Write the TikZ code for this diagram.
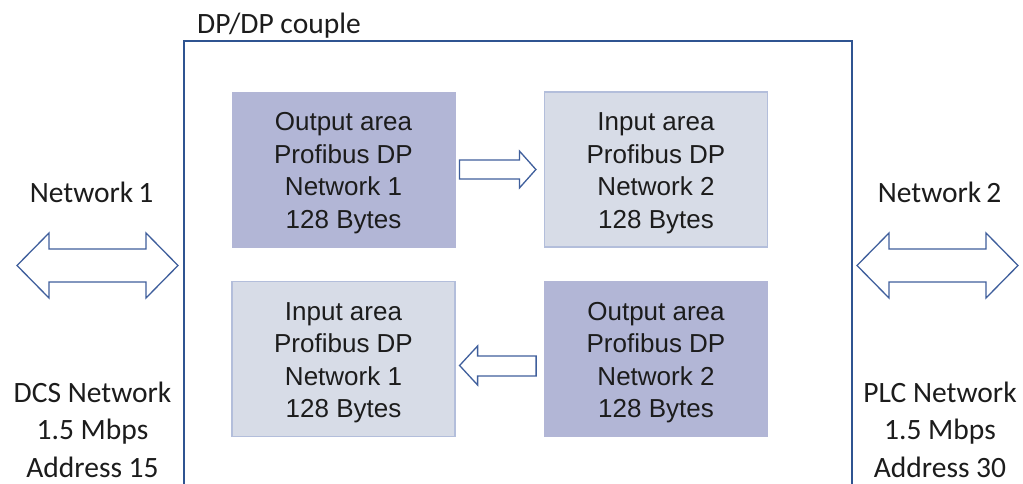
\documentclass[tikz,border=0pt]{standalone}
\usepackage{fontspec}
\setmainfont{Carlito}
\newfontfamily\boxfont{Liberation Sans}
\usetikzlibrary{calc}

\definecolor{frameblue}{HTML}{2F5491}
\definecolor{arrowblue}{HTML}{3F5F9C}
\definecolor{darkarea}{HTML}{B2B6D6}
\definecolor{lightarea}{HTML}{D7DCE7}
\definecolor{lightedge}{HTML}{B3BEDB}
\definecolor{inktext}{HTML}{1C1C1C}

% a taller first line pushes the four text lines slightly down in their box
\newcommand{\firstline}{\rule{0pt}{25pt}}

\tikzset{
  area/.style={minimum width=223pt, minimum height=155pt, inner sep=0pt,
    align=center, text=inktext,
    font=\boxfont\fontsize{26pt}{32.5pt}\selectfont},
  outarea/.style={area, fill=darkarea, draw=darkarea, line width=0.8pt},
  inarea/.style={area, fill=lightarea, draw=lightedge, line width=1.2pt},
  caption/.style={inner sep=0pt, text=inktext, align=center,
    font=\fontsize{29.5pt}{37.5pt}\selectfont},
  blockarrow/.style={draw=arrowblue, fill=white, line width=1.3pt, line join=miter},
  frame/.style={draw=frameblue, line width=1.4pt}
}

\begin{document}
\begin{tikzpicture}[x=1pt, y=-1pt]
  \clip (0,0) rectangle (1023,483);
  \fill[white] (0,0) rectangle (1023,483);

  % coupler housing, open at the bottom
  \draw[frame] (184,41) rectangle (852,520);
  \node[caption, anchor=base west] (title) at (197,33) {DP/DP couple};

  % data areas
  \node[outarea] (out1) at (343.5,169.5) {\firstline Output area\\Profibus DP\\Network 1\\128 Bytes};
  \node[inarea]  (in2)  at (656,169.5)   {\firstline Input area\\Profibus DP\\Network 2\\128 Bytes};
  \node[inarea]  (in1)  at (343.5,359)   {\firstline Input area\\Profibus DP\\Network 1\\128 Bytes};
  \node[outarea] (out2) at (656,359)     {\firstline Output area\\Profibus DP\\Network 2\\128 Bytes};

  % transfer arrows between the areas
  \draw[blockarrow]
    ($(out1.east)+(4,-9.5)$) -- ($(out1.east)+(64,-9.5)$) -- ($(out1.east)+(64,-18.5)$)
    -- ($(in2.west)+(-8,0)$)
    -- ($(out1.east)+(64,18.5)$) -- ($(out1.east)+(64,9.5)$) -- ($(out1.east)+(4,9.5)$) -- cycle;
  \draw[blockarrow]
    ($(out2.west)+(-8,-3)$) -- ($(in1.east)+(22,-3)$) -- ($(in1.east)+(22,-13)$)
    -- ($(in1.east)+(4,6.5)$)
    -- ($(in1.east)+(22,26)$) -- ($(in1.east)+(22,17)$) -- ($(out2.west)+(-8,17)$) -- cycle;

  % network links on both sides
  \coordinate (l1) at (17,265.5);
  \coordinate (r1) at (178,265.5);
  \draw[blockarrow]
    (l1) -- ($(l1)+(32,-32.5)$) -- ($(l1)+(32,-16.5)$) -- ($(r1)+(-32,-16.5)$)
    -- ($(r1)+(-32,-32.5)$) -- (r1) -- ($(r1)+(-32,32.5)$) -- ($(r1)+(-32,16.5)$)
    -- ($(l1)+(32,16.5)$) -- ($(l1)+(32,32.5)$) -- cycle;
  \coordinate (l2) at (857,265.5);
  \coordinate (r2) at (1018,265.5);
  \draw[blockarrow]
    (l2) -- ($(l2)+(32,-32.5)$) -- ($(l2)+(32,-16.5)$) -- ($(r2)+(-32,-16.5)$)
    -- ($(r2)+(-32,-32.5)$) -- (r2) -- ($(r2)+(-32,32.5)$) -- ($(r2)+(-32,16.5)$)
    -- ($(l2)+(32,16.5)$) -- ($(l2)+(32,32.5)$) -- cycle;

  % network captions (base anchor sits on the last line)
  \node[caption, anchor=base] (net1) at (91.5,202) {Network\,1};
  \node[caption, anchor=base] (net2) at (939.5,202) {Network\,2};
  \node[caption, anchor=base] (dcs) at (92.5,477) {DCS Network\\1.5 Mbps\\Address 15};
  \node[caption, anchor=base] (plc) at (940,477) {PLC Network\\1.5 Mbps\\Address 30};
\end{tikzpicture}
\end{document}
